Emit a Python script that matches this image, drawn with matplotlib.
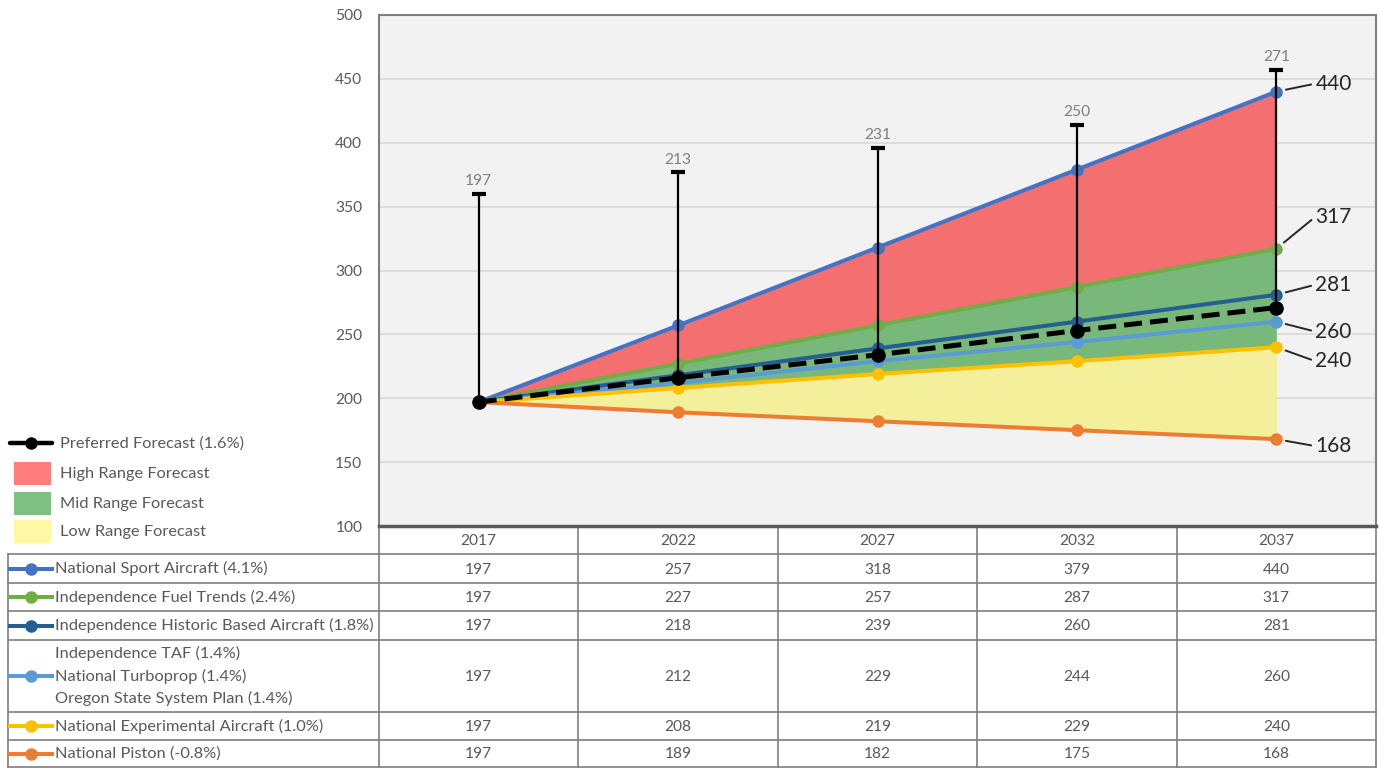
import matplotlib
matplotlib.use('Agg')
import matplotlib.pyplot as plt
import matplotlib.transforms as mtransforms
from matplotlib.patches import Rectangle
import numpy as np

# ---------------- data ----------------
years = ['2017', '2022', '2027', '2032', '2037']
sport = [197, 257, 318, 379, 440]
fuel = [197, 227, 257, 287, 317]
historic = [197, 218, 239, 260, 281]
taf = [197, 212, 229, 244, 260]
experimental = [197, 208, 219, 229, 240]
piston = [197, 189, 182, 175, 168]
preferred = [197, 216, 234, 253, 271]
preferred_labels = [197, 213, 231, 250, 271]
range_top = [360, 377, 396, 414, 457]

series_names = ['National Sport Aircraft (4.1%)',
                'Independence Fuel Trends (2.4%)',
                'Independence Historic Based Aircraft (1.8%)',
                'Independence TAF (1.4%)\nNational Turboprop (1.4%)\nOregon State System Plan (1.4%)',
                'National Experimental Aircraft (1.0%)',
                'National Piston (-0.8%)']
legend_labels = ['Preferred Forecast (1.6%)', 'High Range Forecast',
                 'Mid Range Forecast', 'Low Range Forecast']
yticks = [100, 150, 200, 250, 300, 350, 400, 450, 500]

# ---------------- style ----------------
plt.rcParams['font.family'] = ['Lato', 'DejaVu Sans']
series = [sport, fuel, historic, taf, experimental, piston]
colors = ['#4472C4', '#70AD47', '#255E91', '#5B9BD5', '#FFC000', '#ED7D31']
fill_colors = ['#F47070', '#78B97B', '#F3EF9A']
legend_fill = ['#FF7C7C', '#7DC183', '#FFF7A3']
txt_gray = '#595959'
end_offsets = [(39, 8), (39, 32), (39, 10), (39, -10), (39, -14), (39, -7)]
fs_small = 11.2
fs_label = 11.8

W, H = 1379, 768
fig = plt.figure(figsize=(W / 100, H / 100), dpi=100)
fig.patch.set_facecolor('white')

ax = fig.add_axes([379 / W, 1 - 526 / H, (1376 - 379) / W, (526 - 15) / H])
x = np.arange(len(years))
ax.set_xlim(-0.5, len(years) - 0.5)
ax.set_ylim(yticks[0], yticks[-1])
ax.set_facecolor('#F2F2F2')
ax.set_yticks(yticks)
ax.set_yticklabels([str(v) for v in yticks], fontsize=fs_small, color=txt_gray)
ax.tick_params(axis='y', length=0, pad=12)
ax.set_xticks([])
ax.grid(axis='y', color='#D9D9D9', lw=1.2, zorder=0)
ax.set_axisbelow(True)
for s in ['left', 'top', 'right']:
    ax.spines[s].set_color('#808080')
    ax.spines[s].set_linewidth(1.5)
ax.spines['bottom'].set_color('#595959')
ax.spines['bottom'].set_linewidth(2.5)

# range fills
ax.fill_between(x, fuel, sport, color=fill_colors[0], lw=0, zorder=1)
ax.fill_between(x, experimental, fuel, color=fill_colors[1], lw=0, zorder=1)
ax.fill_between(x, piston, experimental, color=fill_colors[2], lw=0, zorder=1)

# series lines
for vals, c in zip(series, colors):
    ax.plot(x, vals, color=c, lw=2.9, marker='o', ms=8, zorder=3)

# range bars (error-bar style)
ax.vlines(x, preferred, range_top, color='black', lw=1.6, zorder=4)
ax.plot(x, range_top, ls='none', marker='_', ms=10, mew=3, color='black', zorder=4)
for i, (lbl, top) in enumerate(zip(preferred_labels, range_top)):
    ax.annotate(str(lbl), (i, top), xytext=(0, 4), textcoords='offset points',
                ha='center', va='bottom', fontsize=fs_small, color='#7F7F7F')

# preferred forecast
ax.plot(x, preferred, color='black', lw=3.6, ls=(0, (3.6, 1.6)),
        marker='o', ms=9.5, zorder=5)

# end labels
for vals, off in zip(series, end_offsets):
    ax.annotate(str(vals[-1]), (x[-1], vals[-1]), xytext=off, textcoords='offset pixels',
                ha='left', va='center', fontsize=15, color='#262626',
                arrowprops=dict(arrowstyle='-', color='#262626', lw=1.4,
                                shrinkA=1, shrinkB=7, relpos=(0, 0.5)),
                annotation_clip=False, zorder=6)

# ---------------- overlay (legend + table) ----------------
tab = fig.add_axes([0, 0, 1, 1], zorder=-1)
tab.set_xlim(0, W)
tab.set_ylim(H, 0)
tab.axis('off')
bt = mtransforms.blended_transform_factory(ax.transData, tab.transData)

# legend
leg_y = [443, 473, 503, 531]
tab.plot([10, 52], [leg_y[0], leg_y[0]], color='black', lw=3.2, solid_capstyle='round')
tab.plot([31], [leg_y[0]], marker='o', ms=8, color='black')
for yy, fc in zip(leg_y[1:], legend_fill):
    tab.add_patch(Rectangle((14, yy - 11.5), 37, 23, facecolor=fc, edgecolor='none'))
for yy, lab in zip(leg_y, legend_labels):
    tab.text(60, yy + 1, lab, ha='left', va='center', fontsize=fs_label, color=txt_gray)

# table grid
line_c = '#7F7F7F'
row_edges = [554, 583, 611, 640, 712, 740, 767]
for yy in row_edges:
    tab.plot([8, 1376], [yy, yy], color=line_c, lw=1.2)
tab.plot([8, 8], [554, 767], color=line_c, lw=1.2)
tab.plot([379, 379], [526, 767], color=line_c, lw=1.2)
tab.plot([1376, 1376], [526, 767], color=line_c, lw=1.2)
for i in range(1, len(years)):
    tab.plot([i - 0.5, i - 0.5], [526, 767], color=line_c, lw=1.2, transform=bt)

# header
for i, yr in enumerate(years):
    tab.text(i, 541, yr, transform=bt, ha='center', va='center', fontsize=fs_small, color=txt_gray)

# rows
for r, (name, vals, c) in enumerate(zip(series_names, series, colors)):
    yc = (row_edges[r] + row_edges[r + 1]) / 2
    tab.plot([10, 52], [yc, yc], color=c, lw=2.9)
    tab.plot([31], [yc], marker='o', ms=8, color=c)
    tab.text(55, yc, name, ha='left', va='center', fontsize=fs_label, color=txt_gray,
             linespacing=1.6)
    for i, v in enumerate(vals):
        tab.text(i, yc + 1, str(v), transform=bt, ha='center', va='center',
                 fontsize=fs_small, color=txt_gray)

fig.savefig('out.png', dpi=100)
